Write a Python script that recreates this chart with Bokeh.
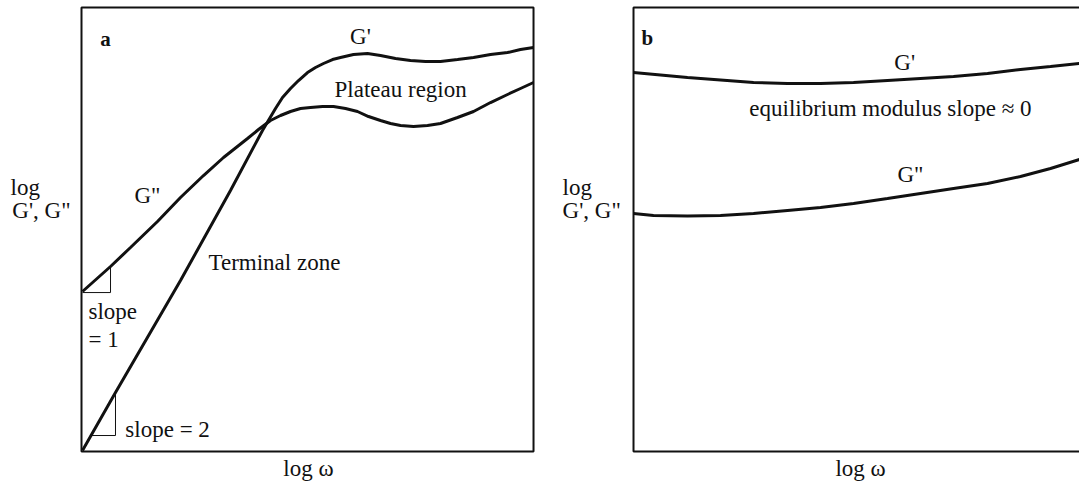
from bokeh.plotting import figure
from bokeh.models import Label, Range1d, BoxAnnotation
from bokeh.layouts import row
from bokeh.embed import file_html
from bokeh.resources import INLINE

# ---------------- data (arbitrary units: box spans 0..100) ----------------
# panel a : G' (storage modulus) and G'' (loss modulus)
a_gp_x = [0.22, 7.52, 21.90, 32.96, 40.04, 42.92, 44.47, 46.24, 48.01, 50.00, 51.77, 53.54, 55.53, 57.30,
          60.18, 63.27, 66.15, 69.47, 72.79, 76.11, 79.42, 83.19, 86.73, 90.49, 94.25, 97.12, 100.0]
a_gp_y = [0.23, 13.29, 38.51, 58.78, 72.30, 77.25, 79.73, 81.76, 83.56, 85.36, 86.49, 87.39, 88.29, 88.74,
          89.41, 89.64, 89.19, 88.51, 88.06, 87.84, 87.84, 88.29, 88.74, 89.41, 89.86, 90.54, 90.99]
a_gpp_x = [0.22, 6.42, 10.84, 16.81, 21.90, 26.99, 31.42, 36.73, 39.16, 41.81, 44.03, 46.24, 48.45, 50.66,
           53.32, 55.75, 58.41, 61.06, 63.50, 66.15, 68.36, 70.58, 73.45, 76.55, 79.42, 83.19, 86.73, 90.49,
           94.25, 97.12, 100.0]
a_gpp_y = [36.04, 41.67, 45.95, 51.80, 57.21, 62.16, 66.22, 70.50, 72.52, 74.55, 75.68, 76.58, 77.25, 77.48,
           77.70, 77.70, 77.25, 76.58, 75.45, 74.55, 73.87, 73.42, 73.20, 73.42, 73.87, 75.23, 76.58, 78.60,
           80.41, 81.76, 83.11]
slope1_x = [0.22, 6.42, 6.42]
slope1_y = [35.8, 35.8, 41.6]
slope2_x = [2.2, 7.52, 7.52]
slope2_y = [3.6, 3.6, 13.7]

# panel b
b_gp_x = [0.0, 6.05, 12.11, 19.51, 26.91, 34.53, 41.93, 49.33, 56.95, 64.35, 71.75, 79.37, 86.77, 93.50, 100.0]
b_gp_y = [85.36, 84.80, 84.23, 83.67, 83.11, 82.88, 82.88, 83.11, 83.56, 84.01, 84.46, 85.14, 86.04, 86.71, 87.39]
b_gpp_x = [0.0, 4.48, 12.11, 19.51, 26.91, 34.53, 41.93, 49.33, 56.95, 64.35, 71.75, 79.37, 86.77, 93.50, 100.0]
b_gpp_y = [53.60, 53.15, 53.04, 53.15, 53.60, 54.28, 54.95, 55.86, 56.98, 58.11, 59.23, 60.36, 61.94, 63.74, 65.77]

FONT = "Liberation Serif"
FS = "23px"
INK = "#111111"


def make_fig(width, x0, x1):
    p = figure(width=width, height=486, output_backend="svg", toolbar_location=None,
               x_range=Range1d(x0, x1), y_range=Range1d(-7.88, 101.58),
               min_border=0, min_border_left=0, min_border_right=0,
               min_border_top=0, min_border_bottom=0)
    p.grid.visible = False
    p.axis.visible = False
    p.outline_line_color = None
    p.background_fill_color = "white"
    p.border_fill_color = "white"
    return p


def txt(p, x, y, s, align="center", bold=False, size=FS):
    p.add_layout(Label(x=x, y=y, text=s, text_font=FONT, text_font_size=size,
                       text_font_style="bold" if bold else "normal",
                       text_color=INK, text_align=align, text_baseline="middle"))


def box(p, right):
    p.add_layout(BoxAnnotation(left=0, right=right, bottom=0, top=100,
                               fill_alpha=0, fill_color=None,
                               line_color=INK, line_alpha=1.0, line_width=2))


# ---------------- panel a ----------------
pa = make_fig(553, -17.92, 104.42)
box(pa, 100)
pa.line(a_gp_x, a_gp_y, line_color=INK, line_width=3)
pa.line(a_gpp_x, a_gpp_y, line_color=INK, line_width=3)
pa.line(slope1_x, slope1_y, line_color=INK, line_width=1)
pa.line(slope2_x, slope2_y, line_color=INK, line_width=1)
txt(pa, 5.3, 92.8, "a", bold=True, size="21px")
txt(pa, 61.7, 93.5, "G'")
txt(pa, 70.6, 81.5, "Plateau region")
txt(pa, 14.6, 57.7, 'G"')
txt(pa, 28.1, 42.6, "Terminal zone", align="left")
txt(pa, 1.55, 31.5, "slope", align="left")
txt(pa, 1.55, 25.2, "= 1", align="left")
txt(pa, 9.7, 4.95, "slope = 2", align="left")
txt(pa, -15.7, 59.5, "log", align="left")
txt(pa, -15.3, 54.3, "G', G\"", align="left")
txt(pa, 50.2, -3.83, "log ω")

# ---------------- panel b ----------------
pb = make_fig(526, -17.94, 100.0)
box(pb, 103)
pb.line(b_gp_x, b_gp_y, line_color=INK, line_width=3)
pb.line(b_gpp_x, b_gpp_y, line_color=INK, line_width=3)
txt(pb, 3.1, 93.2, "b", bold=True, size="21px")
txt(pb, 60.8, 87.6, "G'")
txt(pb, 57.6, 77.3, "equilibrium modulus slope ≈ 0")
txt(pb, 62.1, 62.4, 'G"')
txt(pb, -15.9, 59.5, "log", align="left")
txt(pb, -15.9, 54.3, "G', G\"", align="left")
txt(pb, 50.9, -3.83, "log ω")

layout = row(pa, pb)
open("out.html", "w").write(file_html(layout, INLINE))
